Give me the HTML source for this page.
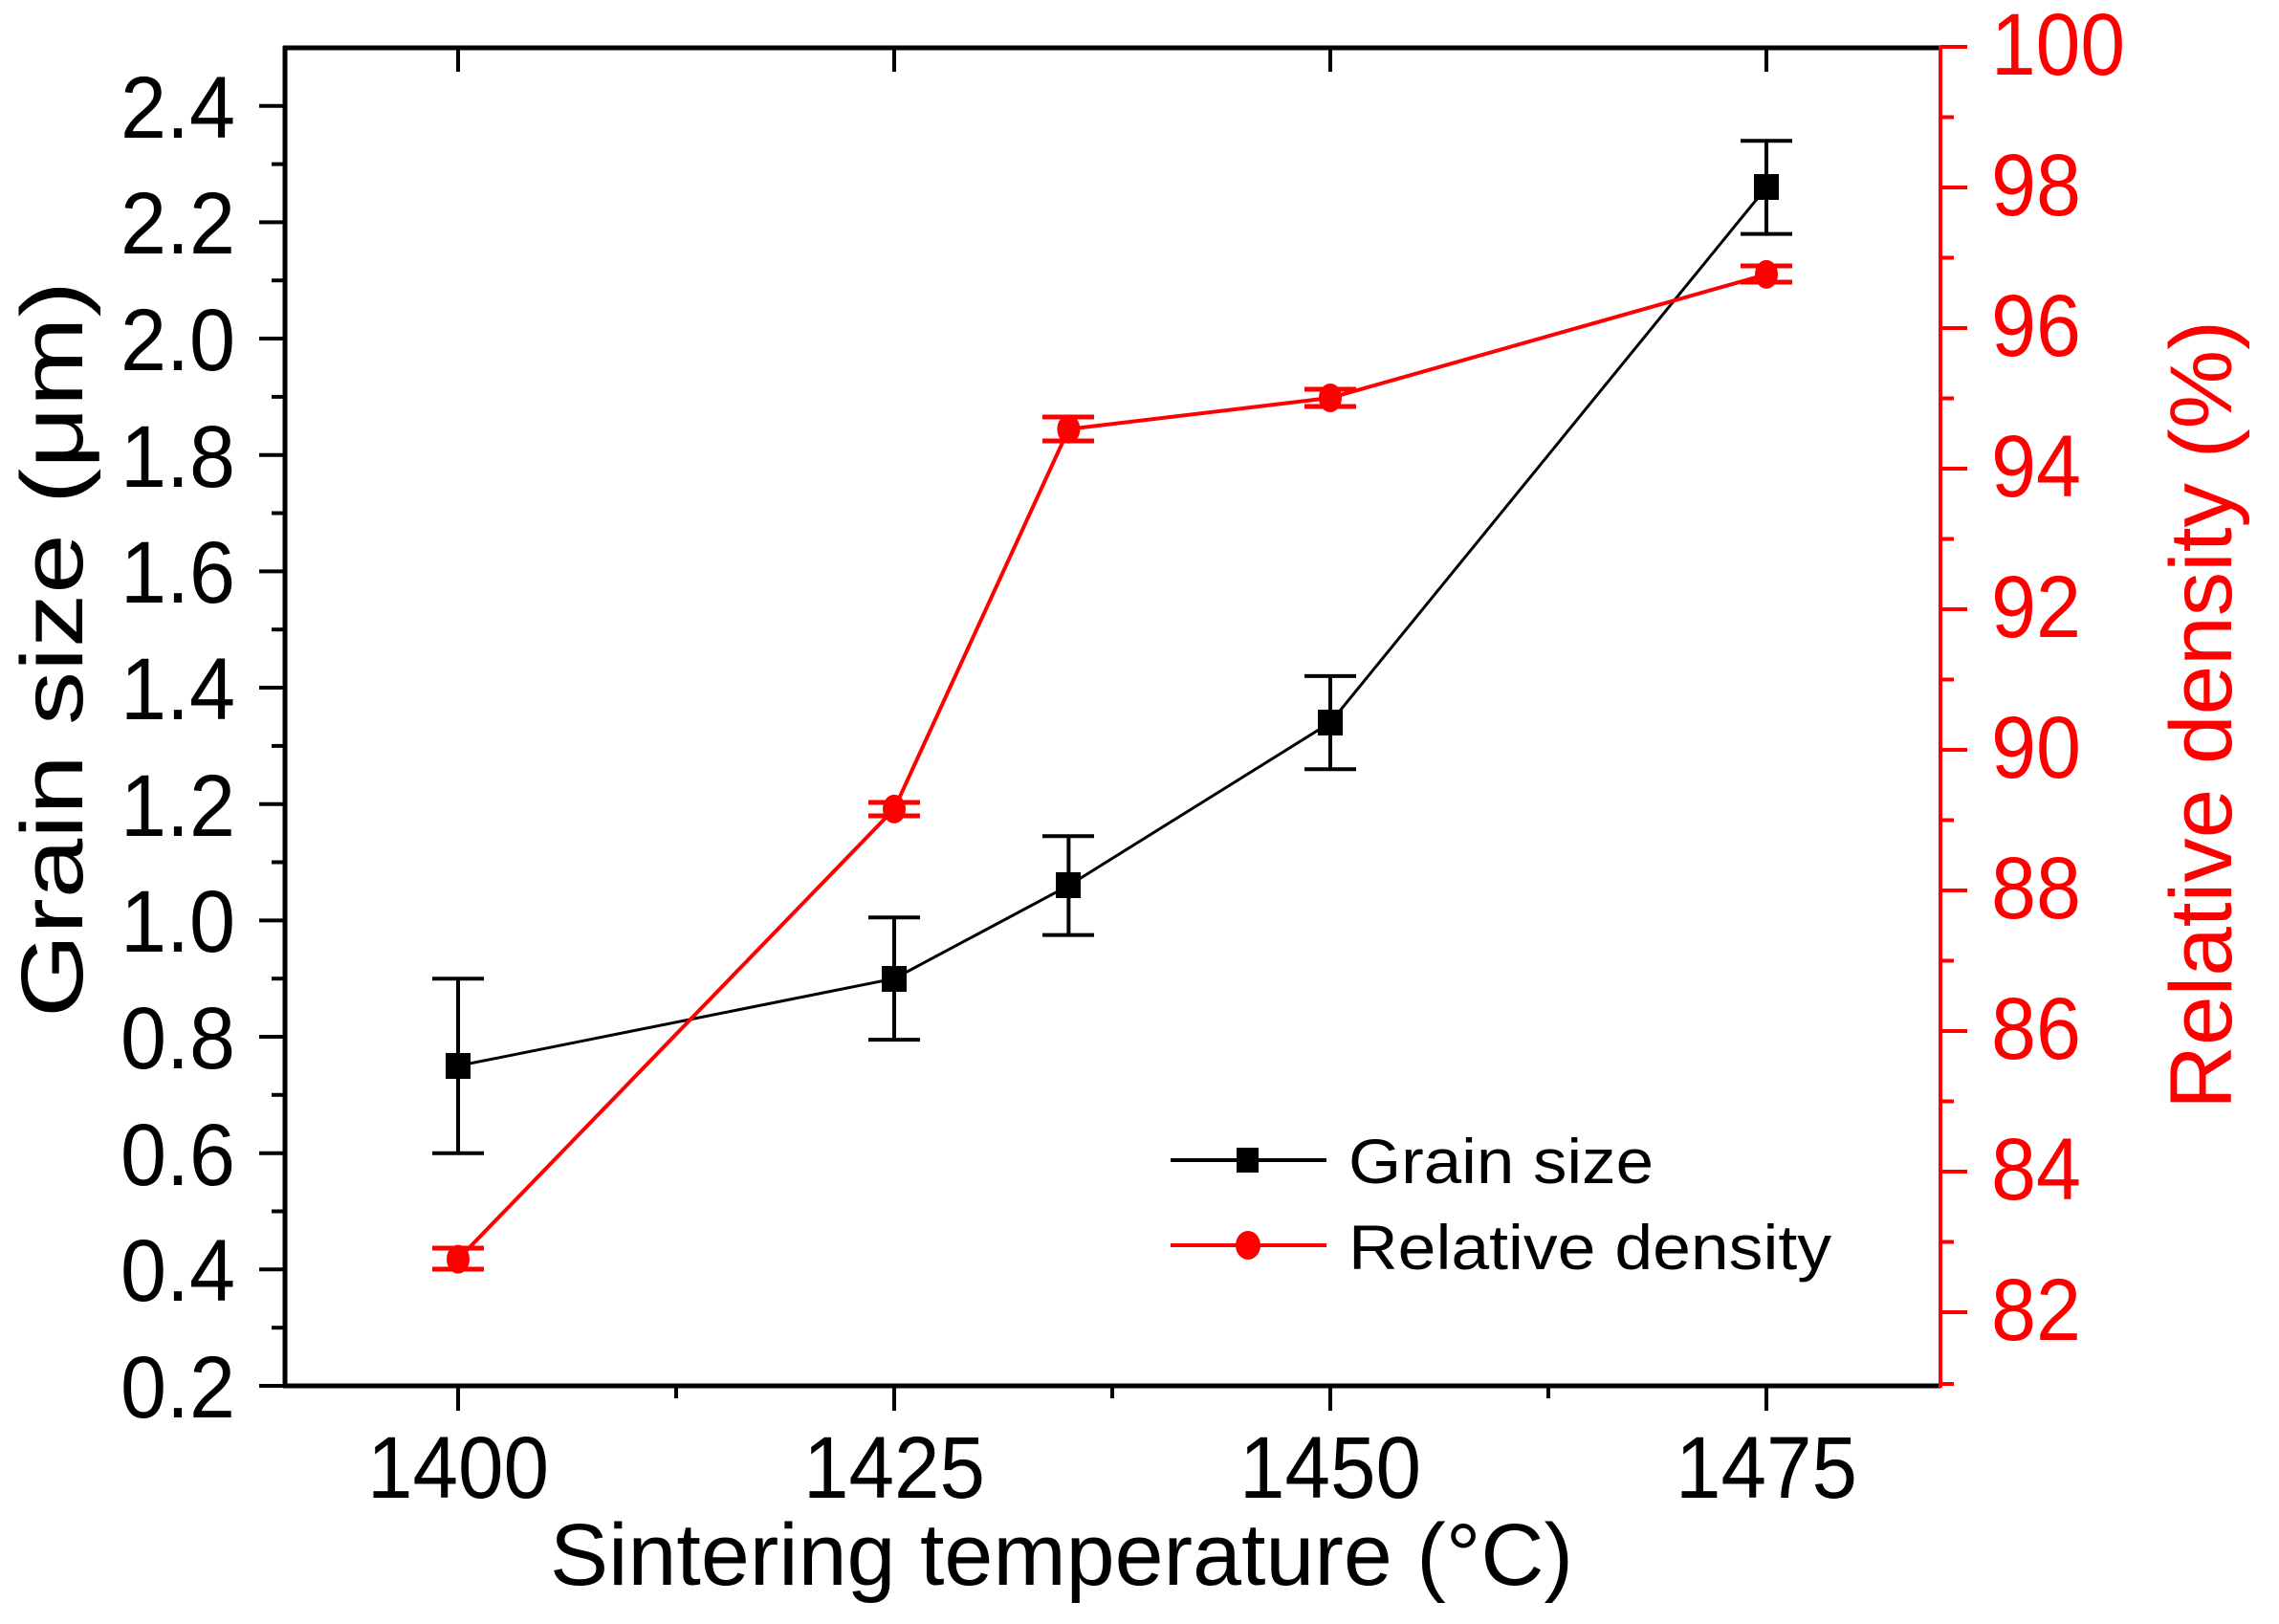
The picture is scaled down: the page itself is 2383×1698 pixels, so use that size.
<!DOCTYPE html>
<html><head><meta charset="utf-8"><style>
html,body{margin:0;padding:0;background:#fff;}
svg{display:block;}
text{font-family:"Liberation Sans",Arial,sans-serif;}
</style></head><body>
<svg width="2383" height="1698" viewBox="0 0 2383 1698" xmlns="http://www.w3.org/2000/svg">
<rect width="2383" height="1698" fill="#fff"/>
<!-- frame -->
<line x1="296" y1="50" x2="2029" y2="50" stroke="#000" stroke-width="5"/>
<line x1="296" y1="1449" x2="2029" y2="1449" stroke="#000" stroke-width="5"/>
<line x1="298" y1="48" x2="298" y2="1451" stroke="#000" stroke-width="5"/>
<line x1="2029" y1="48" x2="2029" y2="1451" stroke="#ff0000" stroke-width="4"/>
<!-- bottom ticks -->
<g stroke="#000" stroke-width="4">
<line x1="479" y1="1449" x2="479" y2="1475"/><line x1="935" y1="1449" x2="935" y2="1475"/>
<line x1="1391" y1="1449" x2="1391" y2="1475"/><line x1="1847" y1="1449" x2="1847" y2="1475"/>
<line x1="707" y1="1449" x2="707" y2="1462"/><line x1="1163" y1="1449" x2="1163" y2="1462"/>
<line x1="1619" y1="1449" x2="1619" y2="1462"/>
<line x1="479" y1="50" x2="479" y2="75"/><line x1="935" y1="50" x2="935" y2="75"/>
<line x1="1391" y1="50" x2="1391" y2="75"/><line x1="1847" y1="50" x2="1847" y2="75"/>
<!-- left major ticks -->
<line x1="271" y1="1449" x2="298" y2="1449"/>
<line x1="271" y1="1327.3" x2="298" y2="1327.3"/>
<line x1="271" y1="1205.7" x2="298" y2="1205.7"/>
<line x1="271" y1="1084" x2="298" y2="1084"/>
<line x1="271" y1="962.4" x2="298" y2="962.4"/>
<line x1="271" y1="840.7" x2="298" y2="840.7"/>
<line x1="271" y1="719" x2="298" y2="719"/>
<line x1="271" y1="597.4" x2="298" y2="597.4"/>
<line x1="271" y1="475.7" x2="298" y2="475.7"/>
<line x1="271" y1="354" x2="298" y2="354"/>
<line x1="271" y1="232.4" x2="298" y2="232.4"/>
<line x1="271" y1="110.7" x2="298" y2="110.7"/>
<!-- left minor -->
<line x1="284" y1="1388.2" x2="298" y2="1388.2"/>
<line x1="284" y1="1266.5" x2="298" y2="1266.5"/>
<line x1="284" y1="1144.8" x2="298" y2="1144.8"/>
<line x1="284" y1="1023.2" x2="298" y2="1023.2"/>
<line x1="284" y1="901.5" x2="298" y2="901.5"/>
<line x1="284" y1="779.9" x2="298" y2="779.9"/>
<line x1="284" y1="658.2" x2="298" y2="658.2"/>
<line x1="284" y1="536.5" x2="298" y2="536.5"/>
<line x1="284" y1="414.9" x2="298" y2="414.9"/>
<line x1="284" y1="293.2" x2="298" y2="293.2"/>
<line x1="284" y1="171.6" x2="298" y2="171.6"/>
</g>
<!-- right ticks -->
<g stroke="#ff0000" stroke-width="4">
<line x1="2029" y1="49" x2="2057" y2="49"/>
<line x1="2029" y1="196" x2="2057" y2="196"/>
<line x1="2029" y1="343" x2="2057" y2="343"/>
<line x1="2029" y1="490" x2="2057" y2="490"/>
<line x1="2029" y1="637" x2="2057" y2="637"/>
<line x1="2029" y1="784" x2="2057" y2="784"/>
<line x1="2029" y1="931" x2="2057" y2="931"/>
<line x1="2029" y1="1078" x2="2057" y2="1078"/>
<line x1="2029" y1="1225" x2="2057" y2="1225"/>
<line x1="2029" y1="1372" x2="2057" y2="1372"/>
<line x1="2029" y1="122.5" x2="2043" y2="122.5"/>
<line x1="2029" y1="269.5" x2="2043" y2="269.5"/>
<line x1="2029" y1="416.5" x2="2043" y2="416.5"/>
<line x1="2029" y1="563.5" x2="2043" y2="563.5"/>
<line x1="2029" y1="710.5" x2="2043" y2="710.5"/>
<line x1="2029" y1="857.5" x2="2043" y2="857.5"/>
<line x1="2029" y1="1004.5" x2="2043" y2="1004.5"/>
<line x1="2029" y1="1151.5" x2="2043" y2="1151.5"/>
<line x1="2029" y1="1298.5" x2="2043" y2="1298.5"/>
<line x1="2029" y1="1447" x2="2043" y2="1447"/>
</g>
<!-- left tick labels -->
<g font-size="92" text-anchor="end" fill="#000">
<text x="246" y="1482" textLength="120" lengthAdjust="spacingAndGlyphs">0.2</text>
<text x="246" y="1360" textLength="120" lengthAdjust="spacingAndGlyphs">0.4</text>
<text x="246" y="1239" textLength="120" lengthAdjust="spacingAndGlyphs">0.6</text>
<text x="246" y="1117" textLength="120" lengthAdjust="spacingAndGlyphs">0.8</text>
<text x="246" y="995" textLength="120" lengthAdjust="spacingAndGlyphs">1.0</text>
<text x="246" y="874" textLength="120" lengthAdjust="spacingAndGlyphs">1.2</text>
<text x="246" y="752" textLength="120" lengthAdjust="spacingAndGlyphs">1.4</text>
<text x="246" y="630" textLength="120" lengthAdjust="spacingAndGlyphs">1.6</text>
<text x="246" y="509" textLength="120" lengthAdjust="spacingAndGlyphs">1.8</text>
<text x="246" y="387" textLength="120" lengthAdjust="spacingAndGlyphs">2.0</text>
<text x="246" y="265" textLength="120" lengthAdjust="spacingAndGlyphs">2.2</text>
<text x="246" y="144" textLength="120" lengthAdjust="spacingAndGlyphs">2.4</text>
</g>
<!-- right tick labels -->
<g font-size="92" fill="#ff0000">
<text x="2082" y="78" textLength="140" lengthAdjust="spacingAndGlyphs">100</text>
<text x="2082" y="225" textLength="94" lengthAdjust="spacingAndGlyphs">98</text>
<text x="2082" y="372" textLength="94" lengthAdjust="spacingAndGlyphs">96</text>
<text x="2082" y="519" textLength="94" lengthAdjust="spacingAndGlyphs">94</text>
<text x="2082" y="666" textLength="94" lengthAdjust="spacingAndGlyphs">92</text>
<text x="2082" y="813" textLength="94" lengthAdjust="spacingAndGlyphs">90</text>
<text x="2082" y="960" textLength="94" lengthAdjust="spacingAndGlyphs">88</text>
<text x="2082" y="1107" textLength="94" lengthAdjust="spacingAndGlyphs">86</text>
<text x="2082" y="1254" textLength="94" lengthAdjust="spacingAndGlyphs">84</text>
<text x="2082" y="1401" textLength="94" lengthAdjust="spacingAndGlyphs">82</text>
</g>
<!-- bottom tick labels -->
<g font-size="92" text-anchor="middle" fill="#000">
<text x="479" y="1566" textLength="190" lengthAdjust="spacingAndGlyphs">1400</text>
<text x="935" y="1566" textLength="190" lengthAdjust="spacingAndGlyphs">1425</text>
<text x="1391" y="1566" textLength="190" lengthAdjust="spacingAndGlyphs">1450</text>
<text x="1847" y="1566" textLength="190" lengthAdjust="spacingAndGlyphs">1475</text>
</g>
<!-- axis titles -->
<text x="575" y="1657" font-size="92" fill="#000" textLength="1070" lengthAdjust="spacingAndGlyphs">Sintering temperature (°C)</text>
<text transform="translate(86,1064) rotate(-90)" font-size="92" fill="#000" textLength="770" lengthAdjust="spacingAndGlyphs">Grain size (μm)</text>
<text transform="translate(2333,1160) rotate(-90)" font-size="92" fill="#ff0000" textLength="825" lengthAdjust="spacingAndGlyphs">Relative density (%)</text>
<!-- grain size series -->
<g stroke="#000" stroke-width="3" fill="none">
<polyline points="479,1114.4 935,1023.2 1117.4,925.9 1391,755.5 1847,195.9"/>
</g>
<g stroke="#000" stroke-width="4">
<line x1="479" y1="1023.2" x2="479" y2="1205.7"/><line x1="452" y1="1023.2" x2="506" y2="1023.2"/><line x1="452" y1="1205.7" x2="506" y2="1205.7"/>
<line x1="935" y1="959.3" x2="935" y2="1087.1"/><line x1="908" y1="959.3" x2="962" y2="959.3"/><line x1="908" y1="1087.1" x2="962" y2="1087.1"/>
<line x1="1117.4" y1="874.2" x2="1117.4" y2="977.6"/><line x1="1090" y1="874.2" x2="1144" y2="874.2"/><line x1="1090" y1="977.6" x2="1144" y2="977.6"/>
<line x1="1391" y1="706.9" x2="1391" y2="804.2"/><line x1="1364" y1="706.9" x2="1418" y2="706.9"/><line x1="1364" y1="804.2" x2="1418" y2="804.2"/>
<line x1="1847" y1="147.2" x2="1847" y2="244.6"/><line x1="1820" y1="147.2" x2="1874" y2="147.2"/><line x1="1820" y1="244.6" x2="1874" y2="244.6"/>
</g>
<g fill="#000">
<rect x="466" y="1101" width="26" height="27"/>
<rect x="922" y="1010" width="26" height="27"/>
<rect x="1104" y="912" width="26" height="27"/>
<rect x="1378" y="742" width="26" height="27"/>
<rect x="1834" y="182" width="26" height="27"/>
</g>
<!-- density series -->
<polyline points="479,1316.6 935,845.9 1117.4,448.7 1391,416 1847,286.9" stroke="#ff0000" stroke-width="4" fill="none"/>
<g stroke="#ff0000" stroke-width="5">
<line x1="452" y1="1305" x2="506" y2="1305"/><line x1="452" y1="1327" x2="506" y2="1327"/>
<line x1="908" y1="839" x2="962" y2="839"/><line x1="908" y1="853" x2="962" y2="853"/>
<line x1="1090" y1="436" x2="1144" y2="436"/><line x1="1090" y1="461" x2="1144" y2="461"/>
<line x1="1364" y1="407" x2="1418" y2="407"/><line x1="1364" y1="425" x2="1418" y2="425"/>
<line x1="1820" y1="278" x2="1874" y2="278"/><line x1="1820" y1="295" x2="1874" y2="295"/>
</g>
<g fill="#ff0000">
<ellipse cx="479" cy="1316.6" rx="12" ry="15"/>
<ellipse cx="935" cy="845.9" rx="12" ry="15"/>
<ellipse cx="1117.4" cy="448.7" rx="12" ry="15"/>
<ellipse cx="1391" cy="416" rx="12" ry="15"/>
<ellipse cx="1847" cy="286.9" rx="12" ry="15"/>
</g>
<!-- legend -->
<line x1="1224" y1="1213" x2="1387" y2="1213" stroke="#000" stroke-width="4"/>
<rect x="1293" y="1200" width="23" height="26" fill="#000"/>
<text x="1410" y="1237" font-size="66" fill="#000" textLength="319" lengthAdjust="spacingAndGlyphs">Grain size</text>
<line x1="1224" y1="1302" x2="1387" y2="1302" stroke="#ff0000" stroke-width="4"/>
<ellipse cx="1305" cy="1302" rx="13" ry="15" fill="#ff0000"/>
<text x="1410" y="1327" font-size="66" fill="#000" textLength="505" lengthAdjust="spacingAndGlyphs">Relative density</text>
</svg>
</body></html>
